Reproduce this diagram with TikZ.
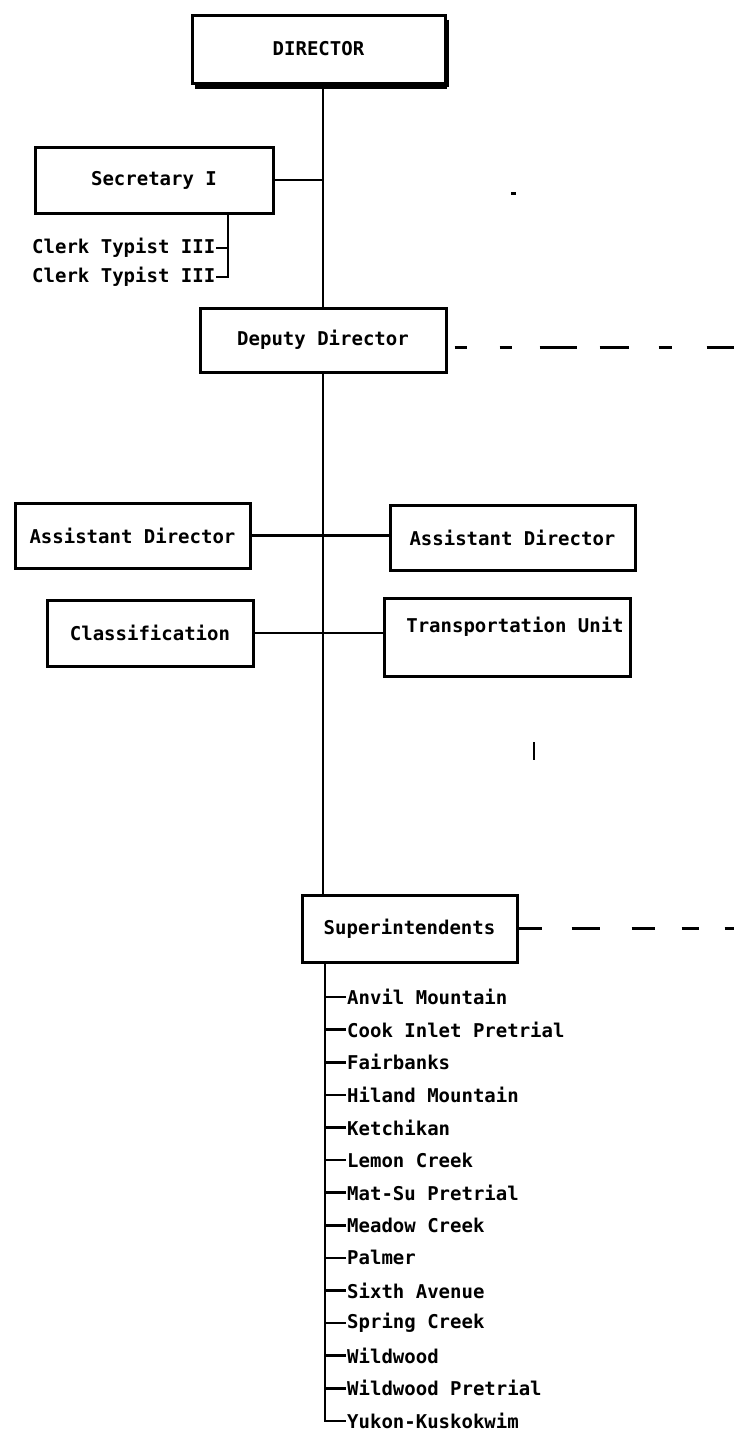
\documentclass[tikz,border=0pt]{standalone}
\usepackage{fontspec}
\newfontfamily\dmfont{DejaVu Sans Mono}
\begin{document}
\begin{tikzpicture}[x=1pt,y=-1pt,
  txt/.style={font=\dmfont\bfseries\fontsize{19pt}{22pt}\selectfont},
  box/.style={txt, draw, line width=3pt, inner sep=0pt},
  lbl/.style={txt, inner sep=1pt, anchor=west},
  conn/.style={line width=2.6pt},
  dashdep/.style={line width=3pt, dash pattern=on 0pt off 7pt on 12pt off 33pt on 12pt off 28pt on 37pt off 23pt on 29pt off 30pt on 13pt off 35pt on 40pt},
  dashsup/.style={line width=3.4pt, dash pattern=on 23pt off 30pt on 28pt off 32pt on 23pt off 27pt on 17pt off 26pt on 20pt}
]
\useasboundingbox (0,0) rectangle (734,1432);
\fill[white] (0,0) rectangle (734,1432);

% boxes
\node[box, minimum width=253pt, minimum height=68pt] (dir) at (318.5,49) {DIRECTOR};
\draw[line width=5.5pt] ([xshift=4pt,yshift=-2pt]dir.south west) -- ([yshift=-2pt]dir.south east);
\draw[line width=4pt] ([yshift=-6pt]dir.north east) -- ([yshift=-2pt]dir.south east);

\node[box, minimum width=238pt, minimum height=66pt] (sec) at (154,180) {Secretary I};
\node[box, minimum width=246pt, minimum height=64pt] (dep) at (323,340) {Deputy Director};
\node[box, minimum width=235pt, minimum height=65pt] (al) at (132.5,535.5) {Assistant Director};
\node[box, minimum width=245pt, minimum height=65pt] (ar) at (512.5,537.5) {Assistant Director};
\node[box, minimum width=206pt, minimum height=66pt] (cl) at (150,633) {Classification};
\node[box, minimum width=246pt, minimum height=78pt] (tu) at (507,637) {};
\node[txt, inner sep=0pt] (tut) at (515,627) {Transportation Unit};
\node[box, minimum width=215pt, minimum height=67pt] (sup) at (409.5,928.5) {Superintendents};

% clerks
\node[lbl] (c1) at (31,248) {Clerk Typist III};
\node[lbl] (c2) at (31,277) {Clerk Typist III};
\coordinate (ctop) at (228,213);

% spine
\draw[conn] (dir.south -| dep.north) -- (dep.north);
\draw[conn] (sec.east) -- (sec.east -| dep.north);
\draw[conn] (ctop) |- (c2.east);
\draw[conn] (c1.east) -- (c1.east -| ctop);
\draw[conn] (dep.south) -- (dep.south |- sup.north);
\draw[conn] (al.east) -- (al.east -| ar.west);
\draw[conn] (cl.east) -- (cl.east -| tu.west);

% dashed links
\coordinate (redge) at (734,0);
\draw[dashdep] ([yshift=-7pt]dep.east) -- ([yshift=-7pt]dep.east -| redge);
\draw[dashsup] (sup.east) -- (sup.east -| redge);

% institutions
\coordinate (lt) at (325,962);
\foreach \n/\t [count=\i from 0] in {
  i1/Anvil Mountain, i2/Cook Inlet Pretrial, i3/Fairbanks, i4/Hiland Mountain,
  i5/Ketchikan, i6/Lemon Creek, i7/Mat-Su Pretrial, i8/Meadow Creek,
  i9/Palmer, i10/Sixth Avenue, i11/Spring Creek, i12/Wildwood,
  i13/Wildwood Pretrial, i14/Yukon-Kuskokwim}{
  \node[lbl] (\n) at (346,{997+32.6*\i}) {\t};
  \draw[conn] (\n.west -| lt) -- (\n.west);
}
\draw[conn] (lt) |- (i14.west);

% scan marks
\fill (511,191.5) rectangle (516,194.5);
\draw[line width=2pt] (534,742) -- (534,760);
\end{tikzpicture}
\end{document}
